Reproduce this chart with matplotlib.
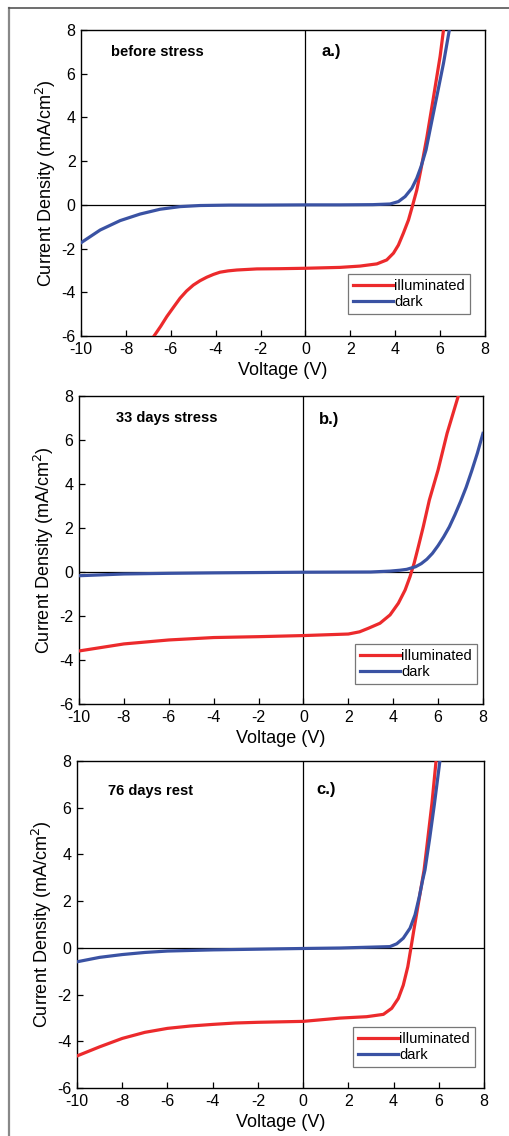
import numpy as np
import matplotlib.pyplot as plt
from matplotlib.lines import Line2D

plt.rcParams['font.family'] = ['Liberation Sans', 'DejaVu Sans']
plt.rcParams['axes.unicode_minus'] = False

# panel a.) before stress
va_ill = [-6.75, -6.45, -6.18, -5.88, -5.59, -5.3, -5.0, -4.7, -4.4, -4.1, -3.81, -3.45, -3.06, -2.17, -1.13,
          0.0, 1.54, 2.43, 3.18, 3.62, 3.92, 4.14, 4.36, 4.59, 4.78, 4.96, 5.14, 5.41, 5.7, 6.0, 6.15]
ja_ill = [-6.0, -5.55, -5.11, -4.68, -4.27, -3.94, -3.67, -3.47, -3.31, -3.18, -3.08, -3.02, -2.98, -2.93,
          -2.92, -2.9, -2.86, -2.80, -2.70, -2.52, -2.21, -1.84, -1.30, -0.69, 0.0, 0.68, 1.60, 3.1, 4.9, 6.8, 8.0]
va_dark = [-10.0, -9.15, -8.26, -7.37, -6.48, -5.59, -4.7, -3.4, -2.0, 0.0, 1.54, 3.0, 3.77, 4.14, 4.44,
           4.74, 4.96, 5.15, 5.37, 5.55, 5.85, 6.15, 6.41]
ja_dark = [-1.73, -1.15, -0.72, -0.42, -0.20, -0.08, -0.03, -0.01, -0.01, 0.0, 0.0, 0.01, 0.04, 0.15, 0.38,
           0.76, 1.22, 1.75, 2.51, 3.43, 4.95, 6.48, 8.0]

# panel b.) 33 days stress
vb_ill = [-10, -8, -6, -4, -2, 0, 2, 2.5, 2.89, 3.41, 3.86, 4.23, 4.53, 4.75, 4.93, 5.12, 5.34, 5.61,
          6.0, 6.4, 6.9]
jb_ill = [-3.59, -3.27, -3.09, -2.98, -2.94, -2.89, -2.82, -2.72, -2.56, -2.33, -1.95, -1.42, -0.82, -0.21,
          0.39, 1.15, 2.06, 3.27, 4.64, 6.30, 8.0]
vb_dark = [-10, -8, -6, -4, 0, 3, 3.86, 4.3, 4.6, 5.0, 5.25, 5.5, 5.75, 6.0, 6.25, 6.5, 6.75, 7.0,
           7.25, 7.5, 7.75, 8.0]
jb_dark = [-0.17, -0.09, -0.06, -0.04, -0.01, 0.0, 0.04, 0.08, 0.12, 0.24, 0.38, 0.58, 0.85, 1.2, 1.6,
           2.05, 2.6, 3.2, 3.85, 4.6, 5.4, 6.3]

# panel c.) 76 days rest
vc_ill = [-10, -9, -8, -7, -6, -5, -4, -3, -2, 0, 1.63, 2.81, 3.55, 3.92, 4.21, 4.43, 4.63, 4.77, 4.9,
          5.05, 5.2, 5.35, 5.5, 5.7, 5.88]
jc_ill = [-4.63, -4.24, -3.88, -3.62, -3.45, -3.35, -3.28, -3.22, -3.19, -3.15, -3.01, -2.95, -2.85, -2.59,
          -2.17, -1.60, -0.81, 0.0, 0.77, 1.62, 2.48, 3.33, 4.55, 6.2, 8.0]
vc_dark = [-10, -9, -8, -7, -6, -4, -2, 0, 1.63, 3.84, 4.14, 4.43, 4.73, 4.95, 5.14, 5.29, 5.39, 5.6, 5.8, 6.05]
jc_dark = [-0.60, -0.41, -0.29, -0.20, -0.14, -0.09, -0.06, -0.03, -0.01, 0.05, 0.17, 0.41, 0.84, 1.41, 2.19,
           2.91, 3.33, 4.7, 6.1, 8.0]

panels = [
    (va_ill, ja_ill, va_dark, ja_dark, 'before stress', 'a.)'),
    (vb_ill, jb_ill, vb_dark, jb_dark, '33 days stress', 'b.)'),
    (vc_ill, jc_ill, vc_dark, jc_dark, '76 days rest', 'c.)'),
]
boxes = [
    [0.159, 0.7042, 0.792, 0.2694],
    [0.155, 0.3803, 0.792, 0.2711],
    [0.151, 0.0423, 0.798, 0.2879],
]
text_pos = [((0.074, 0.928), (0.594, 0.93)),
            ((0.092, 0.929), (0.594, 0.925)),
            ((0.076, 0.908), (0.587, 0.914))]
leg_pos = [(0.963, 0.072), (0.985, 0.065), (0.978, 0.064)]

red = '#ec2a2c'
blue = '#3a52a3'

fig = plt.figure(figsize=(5.10, 11.36), dpi=100)

for i, (vi, ji, vd, jd, name, tag) in enumerate(panels):
    ax = fig.add_axes(boxes[i])
    ax.plot(vi, ji, color=red, lw=2.3, label='illuminated', zorder=3, solid_joinstyle='round')
    ax.plot(vd, jd, color=blue, lw=2.3, label='dark', zorder=3, solid_joinstyle='round')
    ax.axhline(0, color='black', lw=0.9, zorder=2)
    ax.axvline(0, color='black', lw=0.9, zorder=2)
    ax.set_xlim(-10, 8)
    ax.set_ylim(-6, 8)
    ax.set_xticks(np.arange(-10, 9, 2))
    ax.set_yticks(np.arange(-6, 9, 2))
    ax.tick_params(direction='in', length=4.5, width=0.9, labelsize=11.5,
                   top=False, right=False, pad=4)
    for s in ax.spines.values():
        s.set_linewidth(1.0)
    ax.set_xlabel('Voltage (V)', fontsize=13, labelpad=4)
    ax.set_ylabel('Current Density (mA/cm$^2$)', fontsize=13, labelpad=2)
    (tx, ty), (gx, gy) = text_pos[i]
    ax.text(tx, ty, name, transform=ax.transAxes, fontsize=10.5,
            fontweight='bold', va='center', ha='left')
    ax.text(gx, gy, tag, transform=ax.transAxes, fontsize=12,
            fontweight='bold', va='center', ha='left')
    leg = ax.legend(loc='lower right', bbox_to_anchor=leg_pos[i], fontsize=10.5,
                    handlelength=2.7, handletextpad=0.1, borderaxespad=0,
                    borderpad=0.35, labelspacing=0.15, fancybox=False,
                    framealpha=1, edgecolor='#777777')
    leg.get_frame().set_linewidth(0.9)

# grey frame around the figure
fig.add_artist(Line2D([9 / 510, 9 / 510], [0, 1 - 8 / 1136], transform=fig.transFigure,
                      color='#888888', lw=1.6))
fig.add_artist(Line2D([9 / 510, 1], [1 - 8 / 1136, 1 - 8 / 1136], transform=fig.transFigure,
                      color='#555555', lw=1.2))

fig.savefig('out.png', dpi=100)
